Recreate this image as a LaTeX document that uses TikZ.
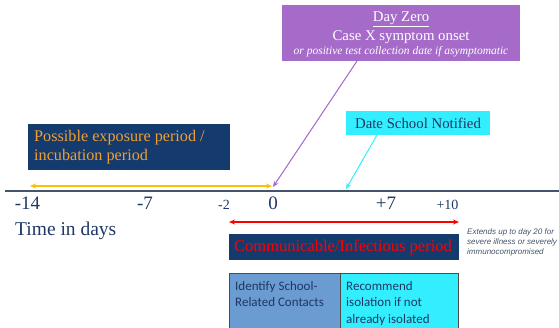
\documentclass[tikz,border=0pt]{standalone}
\usepackage{fontspec}
\setmainfont{Liberation Serif}
\newfontfamily\carlito{Carlito}
\newfontfamily\arialf{Liberation Sans}
\usetikzlibrary{arrows.meta}
\definecolor{navy}{HTML}{143A6E}
\definecolor{txtblue}{HTML}{1F3864}
\definecolor{axisc}{HTML}{44546A}
\definecolor{purp}{HTML}{A66BC9}
\definecolor{cyanb}{HTML}{33EEFF}
\definecolor{orangetxt}{HTML}{F0A030}
\definecolor{orangear}{HTML}{FFC000}
\definecolor{steel}{HTML}{6A9BD1}
\tikzset{
  lbl/.style={text=txtblue, font=\fontsize{19}{21}\selectfont, inner sep=0pt},
  smalllbl/.style={text=txtblue, font=\fontsize{14}{16}\selectfont, inner sep=0pt},
  arr/.style={-{Stealth[length=6pt,width=5pt]}, line width=1pt},
  darr/.style={{Stealth[length=6pt,width=5pt]}-{Stealth[length=6pt,width=5pt]}, line width=1.2pt},
  taskbox/.style={draw=black!70, line width=0.8pt, anchor=north west, minimum height=56pt, inner sep=0pt},
  tasktext/.style={text=txtblue, font=\carlito\fontsize{13}{16.5}\selectfont, align=left, anchor=north west, inner sep=0pt},
}
\begin{document}
\begin{tikzpicture}[x=1pt,y=-1pt]
\useasboundingbox (0,0) rectangle (559,328);
% axis
\draw[axisc, line width=1.2pt] (5,191) -- (559,191);
% purple box
\node[fill=purp, anchor=north west, minimum width=238pt, minimum height=56pt, inner sep=0pt] (dz) at (282,5) {};
\node[text=white, font=\fontsize{14.8}{16}\selectfont, inner sep=0pt] (dzt) at (401,19) {\underline{Day Zero}};
\node[text=white, font=\fontsize{14.8}{16}\selectfont, inner sep=0pt] (dzc) at (401,37) {Case X symptom onset};
\node[text=white, font=\fontsize{11.5}{13}\selectfont\itshape, inner sep=0pt] (dzi) at (401,52) {or positive test collection date if asymptomatic};
\coordinate (dzfoot) at (357,61);
\coordinate (zero) at (273,187);
\draw[arr, purp] (dzfoot) -- (zero);
% date school notified
\node[fill=cyanb, anchor=north west, minimum width=144pt, minimum height=24pt, inner sep=0pt] (dsn) at (346,111) {};
\node[text=txtblue, font=\fontsize{14.8}{16}\selectfont, inner sep=0pt] (dsnt) at (418,123) {Date School Notified};
\coordinate (dsnfoot) at (377,135);
\coordinate (notif) at (346,189);
\draw[arr, cyanb] (dsnfoot) -- (notif);
% exposure box
\node[fill=navy, anchor=north west, minimum width=202pt, minimum height=46pt, inner sep=0pt] (exp) at (28,124) {};
\node[text=orangetxt, font=\fontsize{16.2}{19}\selectfont, align=left, anchor=west, inner sep=0pt] (expt) at (34,147.5) {Possible exposure period /\\incubation period};
% orange arrow
\coordinate (om14) at (30,186);
\coordinate (o0) at (272,186);
\draw[darr, orangear] (om14) -- (o0);
% axis labels
\node[lbl] (t14) at (27.5,203.5) {-14};
\node[lbl] (t7) at (145,203.5) {-7};
\node[smalllbl] (t2) at (224,204.5) {-2};
\node[lbl] (t0) at (273,203.5) {0};
\node[lbl] (tp7) at (386,203.5) {+7};
\node[smalllbl] (tp10) at (447.5,204.5) {+10};
\node[text=txtblue, font=\fontsize{19.5}{22}\selectfont, inner sep=0pt, anchor=west] (tid) at (15,231) {Time in days};
% red arrow
\coordinate (rl) at (229,222);
\coordinate (rr) at (459,222);
\draw[darr, red] (rl) -- (rr);
% communicable box
\node[fill=navy, anchor=north west, minimum width=230pt, minimum height=26pt, inner sep=0pt] (comm) at (229,234) {};
\node[text=red, font=\fontsize{16.5}{18}\selectfont, inner sep=0pt] (commt) at (343,247) {Communicable/Infectious period};
% note
\node[text=axisc, font=\arialf\itshape\fontsize{8}{10}\selectfont, align=left, anchor=north west, inner sep=0pt] (note) at (467,229) {Extends up to day 20 for\\severe illness or severely\\immunocompromised};
% task boxes
\node[taskbox, fill=steel, minimum width=111pt] (idb) at (229,273) {};
\node[tasktext] (idt) at (235,281) {Identify School-\\Related Contacts};
\node[taskbox, fill=cyanb, minimum width=118pt] (isob) at (340,273) {};
\node[tasktext] (isot) at (346,281) {Recommend\\isolation if not\\already isolated};
\end{tikzpicture}
\end{document}
